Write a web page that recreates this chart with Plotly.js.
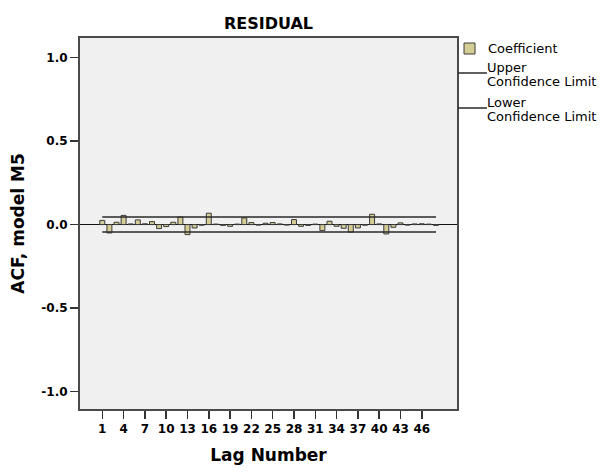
<!DOCTYPE html>
<html>
<head>
<meta charset="utf-8">
<script src="https://cdn.plot.ly/plotly-3.0.1.min.js"></script>
<style>html,body{margin:0;padding:0;background:#fff;}#chart{width:602px;height:474px;}</style>
</head>
<body>
<div id="chart"></div>
<script>
// ---- data ----
var lags = [];
for (var i = 1; i <= 48; i++) lags.push(i);
var coefficient = [
  0.025, -0.05, 0.014, 0.055, 0.004, 0.028, 0.005, 0.018, -0.024, -0.012,
  0.014, 0.045, -0.06, -0.02, -0.004, 0.068, 0.003, -0.005, -0.01, 0.003,
  0.04, 0.012, -0.003, 0.008, 0.012, 0.004, -0.003, 0.03, -0.01, -0.005,
  0.003, -0.036, 0.02, -0.01, -0.022, -0.045, -0.02, -0.004, 0.062, 0.004,
  -0.056, -0.016, 0.01, -0.003, 0.004, 0.005, 0.003, -0.005
];
var upperLimit = lags.map(function(){ return 0.045; });
var lowerLimit = lags.map(function(){ return -0.045; });
var xTickVals = [1,4,7,10,13,16,19,22,25,28,31,34,37,40,43,46];
var yTickVals = [-1.0, -0.5, 0.0, 0.5, 1.0];
var titleText = 'RESIDUAL';
var xTitle = 'Lag Number';
var yTitle = 'ACF, model M5';
var legendLabels = ['Coefficient', 'Upper', 'Confidence Limit', 'Lower', 'Confidence Limit'];

// ---- layout helpers (pixel -> paper) ----
var W = 602, H = 474, L = 80, R = 145, T = 38, B = 65;
var pw = W - L - R, ph = H - T - B;
function px(x){ return (x - L) / pw; }
function py(y){ return (H - B - y) / ph; }

var barColor = '#d4ce96';
var edge = '#3a3a3a';
var bold = {family: 'DejaVu Sans', weight: 'bold', color: '#000'};

var traces = [
  {type: 'bar', x: lags, y: coefficient, width: 0.7,
   marker: {color: barColor, line: {color: edge, width: 1}},
   showlegend: false, hoverinfo: 'skip'},
  {type: 'scatter', mode: 'lines', x: lags, y: upperLimit,
   line: {color: '#2a2a2a', width: 1.5}, showlegend: false, hoverinfo: 'skip'},
  {type: 'scatter', mode: 'lines', x: lags, y: lowerLimit,
   line: {color: '#2a2a2a', width: 1.5}, showlegend: false, hoverinfo: 'skip'}
];

var legFont = {family: 'DejaVu Sans', size: 13, color: '#000'};
function legText(t, x, y){
  return {text: t, xref: 'paper', yref: 'paper', x: px(x), y: py(y),
          xanchor: 'left', yanchor: 'middle', showarrow: false, font: legFont};
}

var layout = {
  width: W, height: H,
  margin: {l: L, r: R, t: T, b: B, pad: 0},
  paper_bgcolor: '#ffffff',
  plot_bgcolor: '#f0f0f0',
  title: {text: titleText, font: Object.assign({size: 16}, bold),
          x: 0.5, xref: 'paper', xanchor: 'center',
          y: 1 - 23 / H, yref: 'container', yanchor: 'middle'},
  bargap: 0,
  xaxis: {
    range: [-2.14, 50.96], tickvals: xTickVals, ticktext: xTickVals.map(String),
    ticks: 'outside', ticklen: 8, tickwidth: 1.5, tickcolor: '#333',
    showgrid: false, zeroline: false,
    showline: true, linecolor: '#4a4a4a', linewidth: 2, mirror: true,
    tickfont: Object.assign({size: 12}, bold),
    title: {text: xTitle, font: Object.assign({size: 17}, bold), standoff: 14}
  },
  yaxis: {
    range: [-1.104, 1.117], tickvals: yTickVals,
    ticktext: yTickVals.map(function(v){ return v.toFixed(1); }),
    ticks: 'outside', ticklen: 8, tickwidth: 1.5, tickcolor: '#333',
    showgrid: false, zeroline: true, zerolinecolor: '#111', zerolinewidth: 1.5,
    showline: true, linecolor: '#4a4a4a', linewidth: 2, mirror: true,
    tickfont: Object.assign({size: 12}, bold),
    title: {text: yTitle, font: Object.assign({size: 17}, bold), standoff: 12}
  },
  shapes: [
    {type: 'rect', xref: 'paper', yref: 'paper', x0: px(464), x1: px(475), y0: py(54), y1: py(43),
     fillcolor: barColor, line: {color: edge, width: 1}},
    {type: 'line', xref: 'paper', yref: 'paper', x0: px(458), x1: px(487), y0: py(73), y1: py(73),
     line: {color: '#2a2a2a', width: 1.5}},
    {type: 'line', xref: 'paper', yref: 'paper', x0: px(458), x1: px(487), y0: py(108), y1: py(108),
     line: {color: '#2a2a2a', width: 1.5}}
  ],
  annotations: [
    legText(legendLabels[0], 486, 49),
    legText(legendLabels[1], 485, 68),
    legText(legendLabels[2], 485, 82),
    legText(legendLabels[3], 485, 102),
    legText(legendLabels[4], 485, 116)
  ]
};

Plotly.newPlot('chart', traces, layout, {displayModeBar: false, staticPlot: true});
</script>
</body>
</html>
